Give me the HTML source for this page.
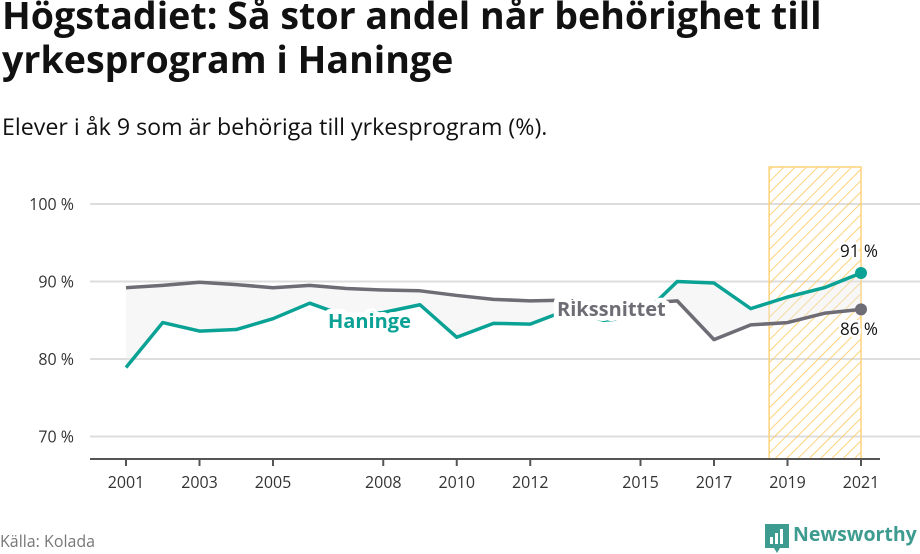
<!DOCTYPE html>
<html><head><meta charset="utf-8">
<style>
body{margin:0;width:920px;height:552px;background:#fff;font-family:"Open Sans","Liberation Sans","DejaVu Sans",sans-serif;overflow:hidden;position:relative;color:#111}
h1{position:absolute;left:2px;top:-6px;margin:0;font-size:37.6px;line-height:44px;font-weight:bold;width:915px;color:#111}
.sub{position:absolute;left:2px;top:110px;font-size:23.2px;color:#111}
.src{position:absolute;left:0;top:530px;font-size:16px;color:#777}
.logo{position:absolute;left:765px;top:518px;font-size:19.5px;color:#3d9b8f;font-weight:bold}
svg{position:absolute;left:0;top:0}
</style></head><body>
<h1>Högstadiet: Så stor andel når behörighet till yrkesprogram i Haninge</h1>
<div class="sub">Elever i åk 9 som är behöriga till yrkesprogram (%).</div>
<div class="src">Källa: Kolada</div>
<div class="logo"><svg width="24" height="30" style="position:relative;left:0;top:6px" viewBox="0 0 24 30"><path d="M0 0h24v24h-9l-3 5-3-5H0z" fill="#3d9b8f"/><rect x="5" y="13" width="3" height="7" fill="#fff"/><rect x="10" y="9" width="3" height="11" fill="#fff"/><rect x="15" y="5" width="3" height="15" fill="#fff"/></svg><span style="position:absolute;left:28px;top:2px">Newsworthy</span></div>
<svg id="c" width="920" height="552">
<defs><pattern id="hatch" width="8" height="8" patternUnits="userSpaceOnUse" patternTransform="rotate(45)"><line x1="0" y1="0" x2="0" y2="8" stroke="#fcc75a" stroke-width="1.6"/></pattern></defs>
</svg>
<script>
const years=[2001,2002,2003,2004,2005,2006,2007,2008,2009,2010,2011,2012,2013,2014,2015,2016,2017,2018,2019,2020,2021];
const haninge=[78.9,84.7,83.6,83.8,85.2,87.2,85.5,86,87.0,82.8,84.6,84.5,86.3,85.0,85.4,90.0,89.8,86.5,88.0,89.2,91.1];
const riket=[89.2,89.5,89.9,89.6,89.2,89.5,89.1,88.9,88.8,88.2,87.7,87.5,87.6,87.2,87.2,87.5,82.5,84.4,84.7,85.9,86.4];
const yTicks=[70,80,90,100];
const xTicks=[2001,2003,2005,2008,2010,2012,2015,2017,2019,2021];
const ns="http://www.w3.org/2000/svg",svg=document.getElementById('c');
const X=y=>126+(y-2001)*36.75, Y=v=>359-(v-80)*7.75;
function el(t,a,p){const e=document.createElementNS(ns,t);for(const k in a)e.setAttribute(k,a[k]);(p||svg).appendChild(e);return e;}
yTicks.forEach(v=>{const l=el('line',{x1:90,x2:920,y1:Y(v),y2:Y(v),stroke:'#ddd','stroke-width':2});

const t=el('text',{x:74,y:Y(v)+6,'text-anchor':'end','font-size':16,fill:'#333'});t.textContent=v+' %';
});
const hb=el('rect',{x:X(2018.5),y:167,width:X(2021)-X(2018.5),height:292,fill:'url(#hatch)',stroke:'#fdd27a','stroke-width':1.5});

let area='M'+years.map((y,i)=>X(y)+','+Y(haninge[i])).join('L')+'L'+years.slice().reverse().map((y,i)=>X(y)+','+Y(riket[riket.length-1-i])).join('L')+'Z';
const a=el('path',{d:area,fill:'#e8e8e8','fill-opacity':0.35});
const ax=el('line',{x1:90,x2:880,y1:459,y2:459,stroke:'#555','stroke-width':2});
xTicks.forEach(y=>{const l=el('line',{x1:X(y),x2:X(y),y1:459,y2:466,stroke:'#555','stroke-width':2});
const t=el('text',{x:X(y),y:488,'text-anchor':'middle','font-size':16,fill:'#333'});t.textContent=y;});
function line(d,c,n){const p=el('path',{d:'M'+years.map((y,i)=>X(y)+','+Y(d[i])).join('L'),fill:'none',stroke:c,'stroke-width':3.5,'stroke-linejoin':'round'});

const dt=el('circle',{cx:X(years[years.length-1]),cy:Y(d[d.length-1]),r:6,fill:c});}
line(riket,'#6e6c74','riket-line');line(haninge,'#0aa295','haninge-line');
function lab(x,y,s,c,n,w,sz,sw){const t=el('text',{x:x,y:y,'font-size':sz||20,'font-weight':w||'bold',fill:c,stroke:'#fff','stroke-width':sw||10,'paint-order':'stroke','stroke-linejoin':'round'});t.textContent=s;}
lab(328,328,'Haninge','#0aa295','haninge-label');
lab(557,316,'Rikssnittet','#6e6c74','riket-label');
lab(840,257,'91 %','#111','haninge-value-label','normal',17,5);
lab(840,335,'86 %','#111','riket-value-label','normal',17,5);
</script>
</body></html>
